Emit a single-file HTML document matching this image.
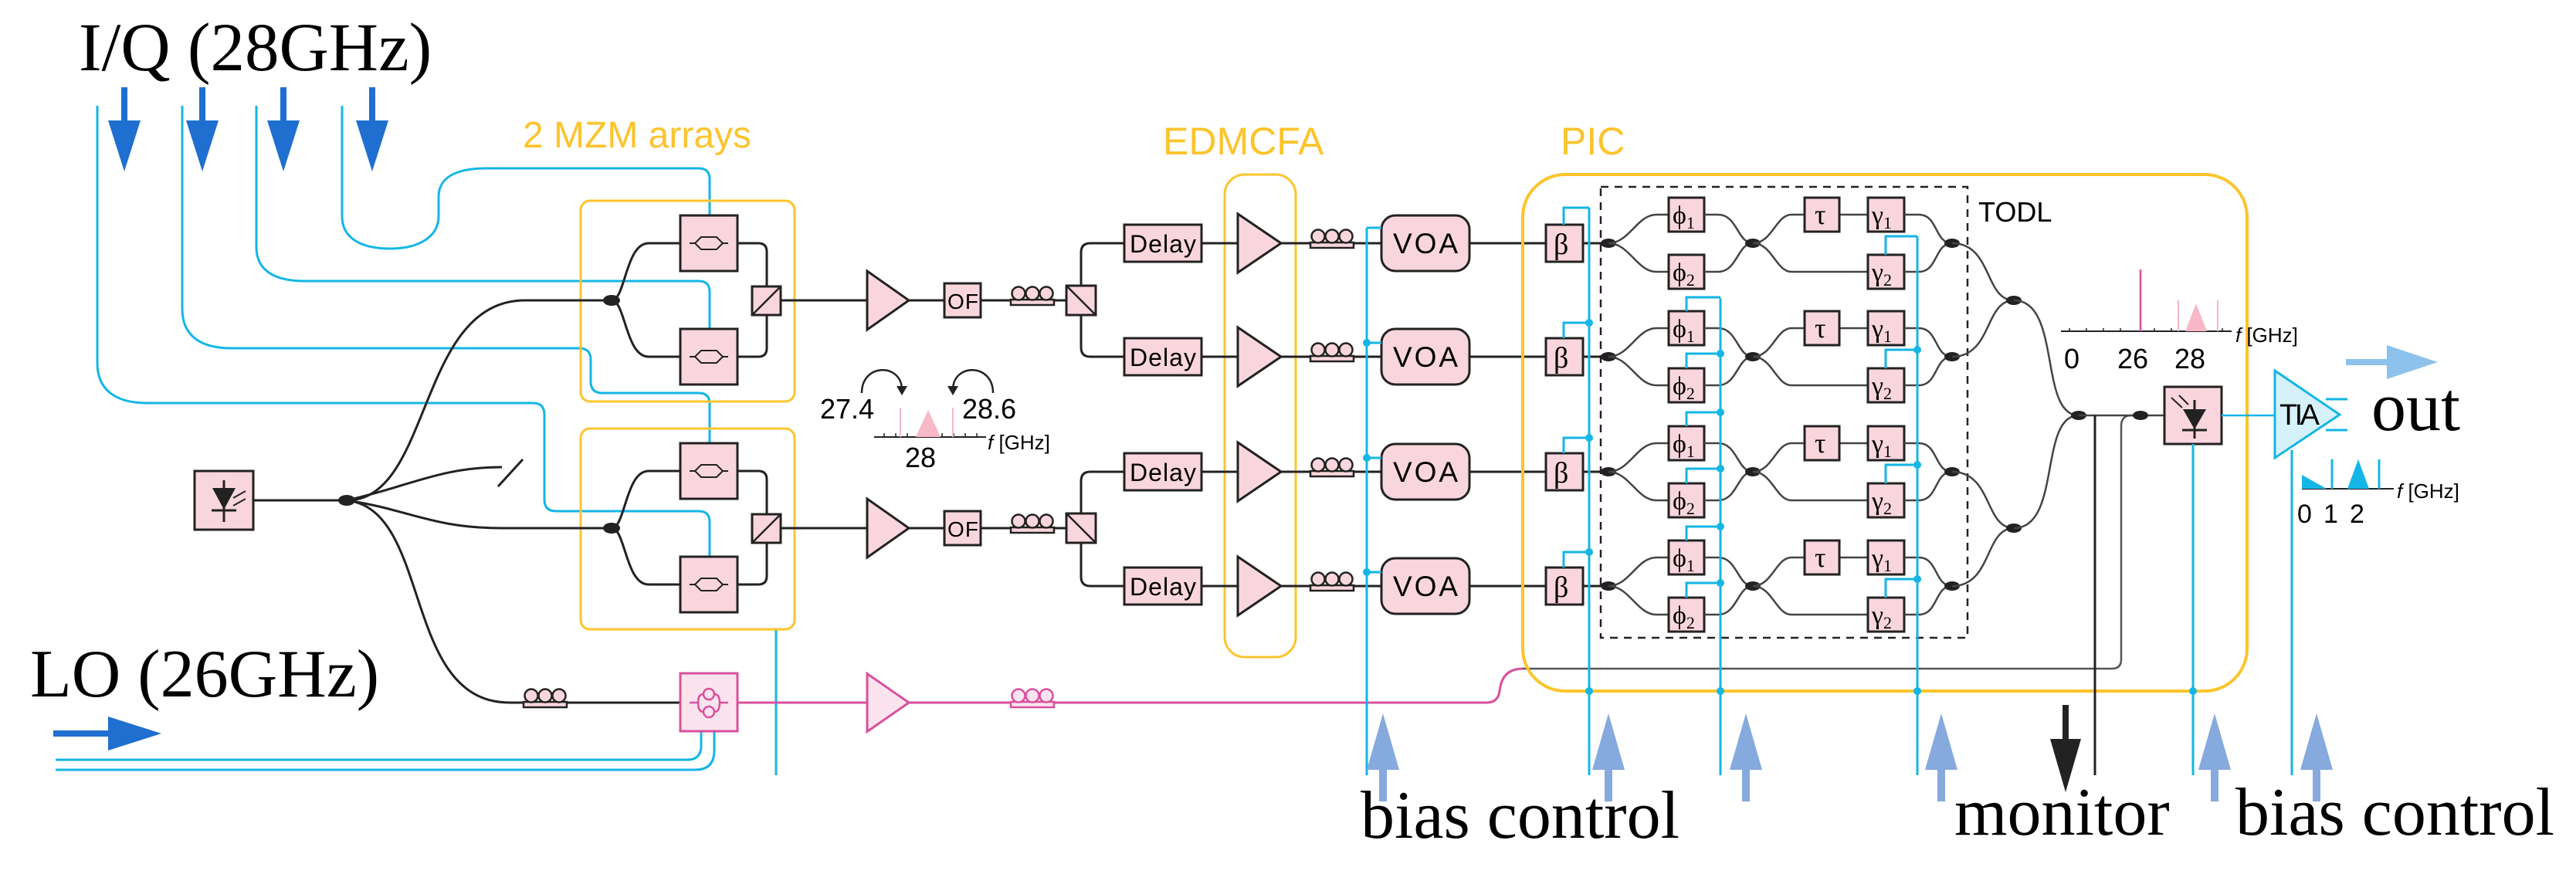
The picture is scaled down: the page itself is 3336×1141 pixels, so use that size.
<!DOCTYPE html>
<html><head><meta charset="utf-8"><style>
html,body{margin:0;padding:0;background:#fff;}
svg{display:block;}
</style></head><body>
<svg id="s" xmlns="http://www.w3.org/2000/svg" width="3336" height="1141" viewBox="0 0 3336 1141"></svg>
<script>
let s='';
const K='#222',CY='#14b6e6',Y='#fcc42c',PK='#f9d6dd',MG='#d9509e',DB='#1f6fd0',LB='#86a9de';
function P(d,c=K,w=3,ex=''){s+=`<path d="${d}" fill="none" stroke="${c}" stroke-width="${w}" ${ex}/>`;}
function R(x,y,w,h,f=PK,c=K,sw=3,rx=0,ex=''){s+=`<rect x="${x}" y="${y}" width="${w}" height="${h}" rx="${rx}" fill="${f}" stroke="${c}" stroke-width="${sw}" ${ex}/>`;}
function G(pts,f,c='none',sw=0){s+=`<polygon points="${pts}" fill="${f}" stroke="${c}" stroke-width="${sw}"/>`;}
function T(x,y,t,sz,f='#000',fam='"Liberation Sans",sans-serif',ex=''){s+=`<text x="${x}" y="${y}" font-size="${sz}" fill="${f}" font-family='${fam}' ${ex}>${t}</text>`;}
function D(x,y,rx=10,ry=6,c=K){s+=`<ellipse cx="${x}" cy="${y}" rx="${rx}" ry="${ry}" fill="${c}"/>`;}
function C(x,y,r=5,c=CY){s+=`<circle cx="${x}" cy="${y}" r="${r}" fill="${c}"/>`;}
function coil(x,y,c=K,f=PK){R(x,y-1,56,7,f,c,2.5);for(let i=0;i<3;i++)s+=`<circle cx="${x+10+18*i}" cy="${y-9}" r="8.5" fill="${f}" stroke="${c}" stroke-width="2.5"/>`;}
function tri(x,cy,w,h,f=PK,c=K){G(`${x},${cy-h/2} ${x},${cy+h/2} ${x+w},${cy}`,f,c,3);}
const SER='"Liberation Serif",serif';

T(102,91,'I/Q (28GHz)',89,'#000',SER);
T(39,902,'LO (26GHz)',88,'#000',SER);
T(677,191,'2 MZM arrays',48,Y);
T(1506,200,'EDMCFA',50,Y);
T(2021,200,'PIC',50,Y);

[161,262,367,482].forEach(x=>{R(x-4,113,8,48,DB,'none',0);G(`${x-21},156 ${x+21},156 ${x},222`,DB);});
R(69,946,80,8,DB,'none',0);G(`140,928 140,972 209,950`,DB);

P('M443,137 V280 C443,310 470,322 505,322 C545,322 568,305 568,280 V255 C568,230 590,218 630,218 H905 Q919,218 919,232 V279',CY);
P('M332,137 V320 C332,350 355,364 395,364 H905 Q919,364 919,378 V426',CY);
P('M236,137 V400 C236,435 260,451 300,451 H750 Q765,451 765,466 V494 Q765,509 780,509 H905 Q919,509 919,523 V575',CY);
P('M126,137 V470 C126,505 150,522 190,522 H690 Q705,522 705,537 V647 Q705,662 720,662 H905 Q919,662 919,676 V722',CY);
P('M72,984 H890 Q908,984 908,966 V947',CY);
P('M72,997 H900 Q925,997 925,972 V947',CY);
P('M1005,815 V1004',CY);

R(752,260,277,260,'none',Y,3,12);
R(752,555,277,260,'none',Y,3,12);
R(252,610,76,76);
G('275,632 305,632 290,660',K);P('M274,661 H306 M290,622 V676',K,3);
P('M302,645 L318,636 M302,655 L318,646',K,2);
P('M328,648 H449');D(449,648,11,7);
P('M449,648 C560,648 540,389 680,389 H792');
P('M449,648 C530,660 560,684 650,684 H792');
P('M449,648 C530,630 570,605 650,605');P('M645,630 L677,595');
P('M449,648 C560,660 520,910 660,910 H678');
coil(678,910);P('M734,910 H881');
function mzm(cy){
 D(792,cy,11,7);
 P(`M792,${cy} C810,${cy} 810,${cy-74} 840,${cy-74} H881`);
 P(`M792,${cy} C810,${cy} 810,${cy+73} 840,${cy+73} H881`);
 [[cy-74],[cy+73]].forEach(([c])=>{R(881,c-36,74,72);
  P(`M893,${c} H900 M936,${c} H943`,K,2);
  G(`${900},${c} ${908},${c-8} ${928},${c-8} ${936},${c} ${928},${c+8} ${908},${c+8}`,'none',K,2);});
 P(`M955,${cy-74} H982 Q993,${cy-74} 993,${cy-63} V${cy-18}`);
 P(`M955,${cy+73} H982 Q993,${cy+73} 993,${cy+62} V${cy+18}`);
 R(974,cy-18,37,37);P(`M974,${cy+19} L1011,${cy-18}`,K,2.5);
 P(`M1011,${cy} H1123`);
 tri(1123,cy,54,76);P(`M1177,${cy} H1223`);
 R(1223,cy-22,47,44);T(1227,cy+11,'OF',28,'#000','"Liberation Sans",sans-serif','textLength="40"');
 P(`M1270,${cy} H1309`);coil(1309,cy);P(`M1365,${cy} H1381`);
 R(1381,cy-19,38,38);P(`M1381,${cy-19} L1419,${cy+19}`,K,2.5);
}
mzm(389);mzm(684);
[[389,315,462],[684,611,759]].forEach(([c,a,b])=>{
 P(`M1400,${c-19} V${a+12} Q1400,${a} 1412,${a} H1456`);
 P(`M1400,${c+19} V${b-12} Q1400,${b} 1412,${b} H1456`);
});
R(881,872,74,75,'#fbe4ee',MG,3);
s+=`<circle cx="918" cy="899" r="7" fill="none" stroke="${MG}" stroke-width="2.5"/><circle cx="918" cy="922" r="7" fill="none" stroke="${MG}" stroke-width="2.5"/>`;
P('M893,910 H904 M932,910 H943 M904,910 Q904,899 911,899 M904,910 Q904,922 911,922 M932,910 Q932,899 925,899 M932,910 Q932,922 925,922',MG,2.5);
P('M955,910 H1123',MG);tri(1123,910,54,75,'#fbe4ee',MG);
P('M1177,910 H1309',MG);coil(1309,910,MG,'#fbe4ee');P('M1365,910 H1925 Q1940,910 1942,895 Q1945,866 1972,866',MG);
P('M1972,866 H2735 Q2747,866 2747,854 V552 Q2747,538 2760,538 H2772','#555',2.5);

P('M1116,509 C1116,470 1168,470 1168,505',K,2.5);G('1161,500 1175,500 1168,512',K);
P('M1286,509 C1286,470 1234,470 1234,505',K,2.5);G('1227,500 1241,500 1234,512',K);
T(1062,542,'27.4',36);T(1246,542,'28.6',36);
P('M1132,566 H1277',K,2);
[1145,1160,1175,1190,1205,1220,1235,1250,1265].forEach(x=>P(`M${x},561 V566`,K,1.5));
G('1186,566 1218,566 1202,531','#f7b8c8');P('M1166,528 V566 M1234,528 V566','#f7b8c8',2);
T(1172,605,'28',36);T(1279,582,'<tspan font-style="italic">f</tspan> [GHz]',26);

R(1586,226,92,625,'none',Y,3,26);
[315,462,611,759].forEach(c=>{
 R(1456,c-24,100,48);T(1463,c+12,'Delay',32,'#000','"Liberation Sans",sans-serif','textLength="86"');
 P(`M1556,${c} H1603`);tri(1603,c,56,76);P(`M1659,${c} H1697`);coil(1697,c);
 P(`M1753,${c} H1789`);
 R(1789,c-36,114,72,PK,K,3,18);T(1804,c+13,'VOA',37,'#000','"Liberation Sans",sans-serif','textLength="84"');
 P(`M1903,${c} H2002`);R(2002,c-24,48,48);T(2012,c+14,'β',38,'#000',SER);
 P(`M2050,${c} H2083`);
});
P('M1770,295 V1004 M1770,295 H1789',CY);
[444,593,741].forEach(y=>{P(`M1770,${y} H1789`,CY);C(1770,y);});

R(1972,226,938,669,'none',Y,4,55);
R(2073,242,475,584,'none',K,2.5,0,'stroke-dasharray="10,8"');
T(2562,287,'TODL',36);
const rows=[315,462,611,759];
rows.forEach(c=>{
 const a=c-37,b=c+37;
 D(2083,c,10,6);
 P(`M2083,${c} C2110,${c} 2120,${a} 2145,${a} H2161 M2083,${c} C2110,${c} 2120,${b} 2145,${b} H2161`,'#444',2.5);
 R(2161,a-22,46,44);T(2166,a+12,'ϕ<tspan font-size="22" dy="6">1</tspan>',34,'#000',SER);
 R(2161,b-22,46,44);T(2166,b+12,'ϕ<tspan font-size="22" dy="6">2</tspan>',34,'#000',SER);
 P(`M2207,${a} H2225 C2250,${a} 2250,${c} 2270,${c} M2207,${b} H2225 C2250,${b} 2250,${c} 2270,${c}`,'#444',2.5);
 D(2270,c,10,6);
 P(`M2270,${c} C2295,${c} 2300,${a} 2320,${a} H2337 M2382,${a} H2419 M2270,${c} C2295,${c} 2300,${b} 2320,${b} H2419`,'#444',2.5);
 R(2337,a-22,45,44);T(2350,a+12,'τ',36,'#000',SER);
 R(2419,a-22,47,44);T(2424,a+12,'γ<tspan font-size="22" dy="6">1</tspan>',34,'#000',SER);
 R(2419,b-22,47,44);T(2424,b+12,'γ<tspan font-size="22" dy="6">2</tspan>',34,'#000',SER);
 P(`M2466,${a} H2485 C2510,${a} 2505,${c} 2528,${c} M2466,${b} H2485 C2510,${b} 2505,${c} 2528,${c}`,'#444',2.5);
 D(2528,c,10,6);
});
P('M2528,315 C2580,315 2570,389 2608,389 M2528,462 C2580,462 2570,389 2608,389','#444',2.5);
P('M2528,611 C2580,611 2570,684 2608,684 M2528,759 C2580,759 2570,684 2608,684','#444',2.5);
D(2608,389);D(2608,684);
P('M2608,389 C2670,389 2640,538 2692,538 M2608,684 C2670,684 2640,538 2692,538','#444',2.5);
D(2692,538);P('M2692,538 H2803','#444',2.5);D(2772,538);
P('M2058,269 V1004',CY);P('M2025,291 V269 H2058',CY);
[462,611,759].forEach(c=>{P(`M2025,${c-24} V${c-44} H2058`,CY);C(2058,c-44);});
C(2058,895);
P('M2228,386 V1004',CY);
[462,611,759].forEach((c,i)=>{
 const t1=c-59,t2=c+15;
 P(`M2184,${t1} V${t1-18} H2228`,CY); if(i>0)C(2228,t1-18);
 P(`M2184,${t2} V${t2-19} H2228`,CY); C(2228,t2-19);
});
C(2228,895);
P('M2483,306 V1004',CY);
rows.forEach((c,i)=>{const t=c+15;P(`M2442,${t} V${t-24} H2483`,CY);if(i>0)C(2483,t-24);});
C(2483,895);
R(2803,501,74,74);
G('2827,530 2857,530 2842,556',K);P('M2826,557 H2858 M2842,518 V568',K,3);
P('M2812,515 L2826,528 M2822,512 L2834,524',K,2);
P('M2840,575 V1004',CY);C(2840,895);
P('M2877,538 H2946',CY,2.5);
G('2946,480 2946,593 3030,537','#d6f1fa',CY,3);
T(2952,550,'TIA',38,'#000','"Liberation Sans",sans-serif','textLength="52"');
P('M3012,517 H3040 M3012,557 H3040',CY,3);
P('M2968,583 V1004',CY);
T(3071,557,'out',90,'#000',SER);
R(3038,465,58,8,'#8dc2ec','none',0);G('3091,447 3091,491 3157,469','#8dc2ec');
P('M2669,429 H2890',K,2);[2680,2702,2724,2746,2790,2812,2834,2856,2878].forEach(x=>P(`M${x},425 V429`,K,1.5));
P('M2772,349 V429',MG,2.5);
G('2830,429 2858,429 2844,393','#f7b8c8');P('M2821,389 V429 M2872,389 V429','#f7b8c8',2);
T(2673,477,'0',36);T(2742,477,'26',36);T(2816,477,'28',36);
T(2895,443,'<tspan font-style="italic">f</tspan> [GHz]',26);
P('M2981,633 H3100',K,2);
G('2981,633 2981,615 3013,633',CY);P('M3020,595 V633 M3081,595 V633',CY,3);
G('3040,633 3068,633 3054,595',CY);
T(2975,677,'0',34);T(3009,677,'1',34);T(3043,677,'2',34);
T(3104,645,'<tspan font-style="italic">f</tspan> [GHz]',26);
P('M2713,538 V1004',K,3);
R(2671,913,8,48,K,'none',0);G('2655,957 2695,957 2675,1026',K);
[1791,2083,2261,2514,2868,3000].forEach(x=>{R(x-5,990,10,48,LB,'none',0);G(`${x-21},997 ${x+21},997 ${x},924`,LB);});
T(1762,1085,'bias control',88,'#000',SER);
T(2531,1081,'monitor',88,'#000',SER);
T(2895,1081,'bias control',88,'#000',SER);
document.getElementById('s').innerHTML=s;
</script>
</body></html>
